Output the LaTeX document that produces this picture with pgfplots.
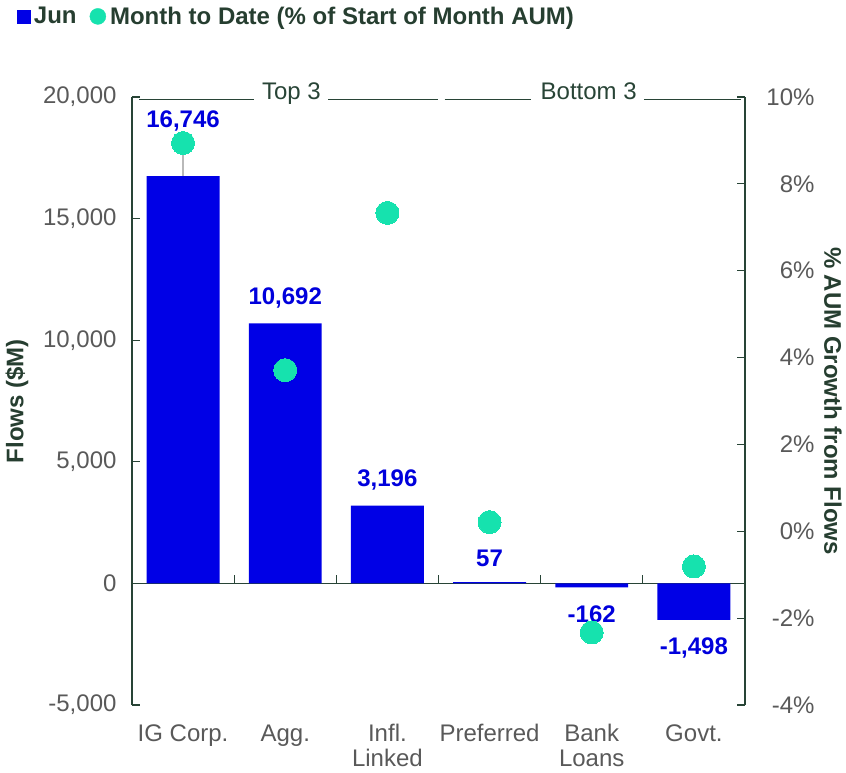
\documentclass[border=0pt]{standalone}
\usepackage{fontspec}
\setmainfont{Liberation Sans}
\usepackage{pgfplots}
\usepackage{pgfplotstable}
\pgfplotsset{compat=1.18}
\definecolor{barblue}{RGB}{0,0,230}
\definecolor{labelblue}{RGB}{0,0,220}
\definecolor{dotgreen}{RGB}{22,226,174}
\definecolor{axisgreen}{RGB}{40,68,54}
\definecolor{titlegreen}{RGB}{38,62,48}
\definecolor{tickgray}{RGB}{89,89,89}
\newcommand{\bigf}{\fontsize{24}{26}\selectfont}
\newcommand{\tickf}{\fontsize{24}{24.5}\selectfont}

\pgfplotstableread{
x y label
0 19000 16,746
1 11720 10,692
2 4235 3,196
3 1030 57
4 -1275 -162
5 -2670 -1,498
}\labeltable

\begin{document}
\begin{tikzpicture}
\begin{axis}[
 name=main, at={(0,0)}, anchor=south west, scale only axis, width=613pt, height=608pt,
 xmin=-0.5, xmax=5.5, ymin=-5000, ymax=20000,
 axis x line*=bottom, axis y line*=left,
 x axis line style={draw=none},
 y axis line style={axisgreen, line width=1.2pt},
 xtick={0,...,5},
 xticklabels={IG Corp., Agg., {Infl.\\Linked}, Preferred, {Bank\\Loans}, Govt.},
 xtick style={draw=none},
 xticklabel style={align=center, font=\tickf, text=tickgray, yshift=-16pt},
 ytick={-5000,0,...,20000},
 scaled y ticks=false,
 ytick style={axisgreen, line width=1.2pt},
 tick align=inside, major tick length=8pt,
 yticklabel style={font=\bigf, text=tickgray, xshift=-12pt},
 /pgf/number format/assume math mode=true,
 /pgf/number format/1000 sep={,},
 ylabel={Flows (\$M)},
 ylabel style={font=\bigf\bfseries, text=titlegreen, at={(axis description cs:-0.1876,0.5)}, anchor=center},
 clip=false,
]
\draw[axisgreen, line width=1.2pt] (axis cs:-0.5,0) -- (axis cs:5.5,0);
\draw[axisgreen, line width=1.2pt] (axis cs:0.5,0) -- ([yshift=8pt]axis cs:0.5,0);
\draw[axisgreen, line width=1.2pt] (axis cs:1.5,0) -- ([yshift=8pt]axis cs:1.5,0);
\draw[axisgreen, line width=1.2pt] (axis cs:2.5,0) -- ([yshift=8pt]axis cs:2.5,0);
\draw[axisgreen, line width=1.2pt] (axis cs:3.5,0) -- ([yshift=8pt]axis cs:3.5,0);
\draw[axisgreen, line width=1.2pt] (axis cs:4.5,0) -- ([yshift=8pt]axis cs:4.5,0);
\addplot[ybar, bar width=0.714, bar shift=0pt, fill=barblue, draw=none]
 coordinates {(0,16746) (1,10692) (2,3196) (3,57) (4,-162) (5,-1498)};
\addplot[gray!55, line width=1.2pt] coordinates {(0,16746) (0,18300)};
\addplot[draw=none, mark=none, nodes near coords, point meta=explicit symbolic,
 nodes near coords style={font=\bigf\bfseries, text=labelblue, anchor=center}]
 table[x=x, y=y, meta=label] {\labeltable};
\draw[axisgreen, line width=1pt] (axis cs:-0.43,19880) -- (axis cs:0.69,19880);
\node[anchor=base, font=\bigf, text=axisgreen, inner sep=0pt] at (axis cs:1.06,19880) {Top 3};
\draw[axisgreen, line width=1pt] (axis cs:1.42,19880) -- (axis cs:2.50,19880);
\draw[axisgreen, line width=1pt] (axis cs:2.56,19880) -- (axis cs:3.41,19880);
\node[anchor=base, font=\bigf, text=axisgreen, inner sep=0pt] at (axis cs:3.97,19880) {Bottom 3};
\draw[axisgreen, line width=1pt] (axis cs:4.51,19880) -- (axis cs:5.46,19880);
\end{axis}
\begin{axis}[
 at={(0,0)}, anchor=south west, scale only axis, width=613pt, height=608pt,
 xmin=-0.5, xmax=5.5, ymin=-4, ymax=10,
 axis x line=none, axis y line*=right,
 y axis line style={axisgreen, line width=1.2pt},
 ytick={-4,-2,...,10},
 ytick style={axisgreen, line width=1.2pt},
 tick align=inside, major tick length=8pt,
 yticklabel style={font=\bigf, text=tickgray, anchor=east, xshift=73pt},
 /pgf/number format/assume math mode=true,
 yticklabel={\pgfmathprintnumber{\tick}\%},
 ylabel={\% AUM Growth from Flows},
 ylabel style={rotate=180, font=\bigf\bfseries, text=titlegreen, at={(axis description cs:1.1436,0.5)}, anchor=center},
 legend columns=2,
 legend style={draw=none, fill=none, at={(axis description cs:-0.1935,1.155)}, anchor=north west,
   font=\bigf\bfseries, text=titlegreen, /tikz/every even column/.append style={column sep=11pt}},
 clip=false,
]
\addlegendimage{legend image code/.code={\fill[barblue] (0pt,-6.5pt) rectangle (13pt,6.5pt); \path (15pt,0pt);}}
\addlegendentry{Jun}
\addplot[only marks, color=dotgreen, mark=*, mark size=11.5pt, mark options={draw=dotgreen, fill=dotgreen, line width=0pt},
 legend image code/.code={\fill[dotgreen] (8pt,0pt) circle (8pt); \path (18pt,0pt);}]
 coordinates {(0,8.94) (1,3.71) (2,7.33) (3,0.21) (4,-2.33) (5,-0.81)};
\addlegendentry{Month to Date (\% of Start of Month AUM)}
\end{axis}
\pgfresetboundingbox
\path[use as bounding box] (-132pt,-67pt) rectangle (714pt,705pt);
\end{tikzpicture}
\end{document}
